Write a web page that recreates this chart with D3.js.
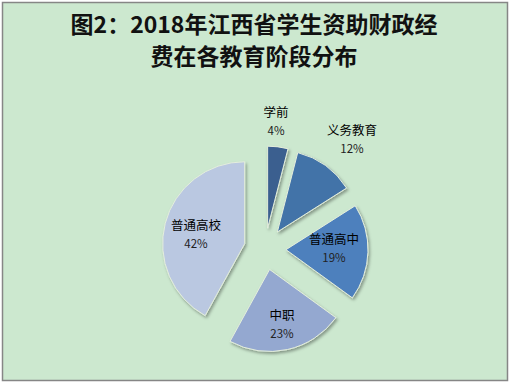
<!DOCTYPE html>
<html>
<head>
<meta charset="utf-8">
<script src="https://cdn.jsdelivr.net/npm/d3@7"></script>
<style>
  body { margin: 0; background: #fff; }
  svg { display: block; font-family: "Noto Sans CJK SC", "Noto Sans", sans-serif; }
</style>
</head>
<body>
<svg width="511" height="385"></svg>
<script>
const categories = ["学前", "义务教育", "普通高中", "中职", "普通高校"];
const shares = [4, 12, 19, 23, 42];
const colors = ["#3b5f8f", "#4373a8", "#4e80bd", "#94a8d0", "#bac8e1"];
const titleLines = ["图2：2018年江西省学生资助财政经", "费在各教育阶段分布"];

const svg = d3.select("svg");

// background + border
svg.append("rect")
  .attr("x", 2.5).attr("y", 2.5)
  .attr("width", 505).attr("height", 378)
  .attr("fill", "#cce8cf")
  .attr("stroke", "#868686")
  .attr("stroke-width", 1.5);

// title
svg.selectAll("text.title")
  .data(titleLines)
  .join("text")
  .attr("class", "title")
  .attr("x", 254)
  .attr("y", (d, i) => 33 + i * 32)
  .attr("text-anchor", "middle")
  .attr("font-size", 23)
  .attr("font-weight", "bold")
  .attr("fill", "#111")
  .text(d => d);

// shadow
const defs = svg.append("defs");
const f = defs.append("filter").attr("id", "shadow")
  .attr("x", "-20%").attr("y", "-20%").attr("width", "140%").attr("height", "140%");
f.append("feDropShadow")
  .attr("dx", 1.5).attr("dy", 2)
  .attr("stdDeviation", 1.5)
  .attr("flood-color", "#000")
  .attr("flood-opacity", 0.35);

const cx = 265, cy = 249, r = 82, explode = 21;

const pie = d3.pie().sort(null).value(d => d);
const arcs = pie(shares);
const arc = d3.arc().innerRadius(0).outerRadius(r);

const g = svg.append("g").attr("transform", `translate(${cx},${cy})`);

function offset(d, dist) {
  const a = (d.startAngle + d.endAngle) / 2;
  return [Math.sin(a) * dist, -Math.cos(a) * dist];
}

g.selectAll("path.slice")
  .data(arcs)
  .join("path")
  .attr("class", "slice")
  .attr("transform", d => `translate(${offset(d, explode)})`)
  .attr("d", arc)
  .attr("fill", (d, i) => colors[i])
  .attr("stroke", "#e4eedc")
  .attr("stroke-width", 1)
  .attr("filter", "url(#shadow)");

// label positions (relative to center)
const labelPos = [[11, -132], [87, -114], [69, -5], [17, 71], [-69, -19]];

const lab = g.selectAll("g.lab")
  .data(arcs)
  .join("g")
  .attr("class", "lab")
  .attr("transform", (d, i) => `translate(${labelPos[i]})`);

lab.append("text")
  .attr("text-anchor", "middle")
  .attr("font-size", 12.5)
  .attr("fill", "#000")
  .text((d, i) => categories[i]);

lab.append("text")
  .attr("text-anchor", "middle")
  .attr("y", 18)
  .attr("font-size", 11.5)
  .attr("fill", "#222")
  .text(d => d.data + "%");
</script>
</body>
</html>
